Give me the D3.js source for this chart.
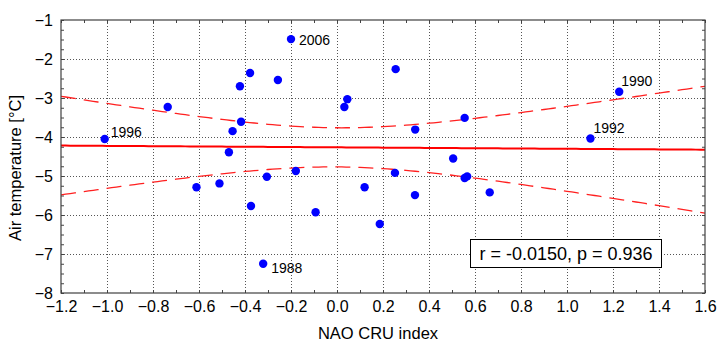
<!DOCTYPE html>
<html>
<head>
<meta charset="utf-8">
<script src="https://cdn.jsdelivr.net/npm/d3@7"></script>
<style>
  body { margin: 0; background: #fff; }
  text { font-family: "Liberation Sans", Arial, sans-serif; fill: #000; }
</style>
</head>
<body>
<div id="chart"></div>
<script>
// NAO CRU index vs air temperature, one point per year
var nao = [-1.010, -0.736, -0.422, -0.378, -0.257, -0.417, -0.454, -0.470, -0.200, 0.255,
  0.045, 0.032, 0.340, -0.611, -0.511, -0.374, -0.305, -0.321, -0.179, -0.093,
  0.120, 0.186, 0.252, 0.339, 1.227, 0.555, 1.102, 0.505, 0.555, 0.566, 0.664];
var temp = [-4.05, -3.23, -2.70, -2.36, -2.54, -3.61, -3.85, -4.39, -1.49, -2.26,
  -3.03, -3.23, -3.81, -5.29, -5.19, -5.77, -5.02, -7.25, -4.87, -5.93,
  -5.29, -6.23, -4.92, -5.49, -2.84, -3.51, -4.04, -4.55, -5.05, -5.01, -5.42];
var years = ["1996", "", "", "", "", "", "", "", "2006", "",
  "", "", "", "", "", "", "", "1988", "", "",
  "", "", "", "", "1990", "", "1992", "", "", "", ""];

var xTicks = [-1.2, -1.0, -0.8, -0.6, -0.4, -0.2, 0.0, 0.2, 0.4, 0.6, 0.8, 1.0, 1.2, 1.4, 1.6];
var yTicks = [-1, -2, -3, -4, -5, -6, -7, -8];
var statText = "r = -0.0150, p = 0.936";

var svgWidth = 718;
var svgHeight = 344;
var margin = { top: 20, right: 13, bottom: 51, left: 61 };
var chartWidth = svgWidth - margin.left - margin.right;
var chartHeight = svgHeight - margin.top - margin.bottom;

var svg = d3.select("#chart")
  .append("svg")
  .attr("width", svgWidth)
  .attr("height", svgHeight);

var chartGroup = svg.append("g")
  .attr("transform", `translate(${margin.left}, ${margin.top})`);

var x = d3.scaleLinear().domain([-1.2, 1.6]).range([0, chartWidth]);
var y = d3.scaleLinear().domain([-8, -1]).range([chartHeight, 0]);

// grid
chartGroup.append("g")
  .selectAll("line.vgrid")
  .data(xTicks.slice(1, -1))
  .enter().append("line")
  .attr("x1", d => Math.round(x(d)) + 0.5).attr("x2", d => Math.round(x(d)) + 0.5)
  .attr("y1", 0).attr("y2", chartHeight)
  .attr("stroke", "#555").attr("stroke-dasharray", "1,2");
chartGroup.append("g")
  .selectAll("line.hgrid")
  .data(yTicks.slice(1, -1))
  .enter().append("line")
  .attr("y1", d => Math.round(y(d)) + 0.5).attr("y2", d => Math.round(y(d)) + 0.5)
  .attr("x1", 0).attr("x2", chartWidth)
  .attr("stroke", "#555").attr("stroke-dasharray", "1,2");

// minor ticks on all four sides, pointing inward
var xMinor = d3.range(-1.2, 1.6001, 0.1);
var yMinor = d3.range(-8, -0.999, 0.25);
function minorAxis(axis, tr) {
  var g = chartGroup.append("g").attr("transform", tr).call(axis);
  g.select(".domain").remove();
  g.selectAll("text").remove();
  g.selectAll("line").attr("stroke", "#444");
}
minorAxis(d3.axisBottom(x).tickValues(xMinor).tickSize(-3), `translate(0,${chartHeight})`);
minorAxis(d3.axisTop(x).tickValues(xMinor).tickSize(-3), "translate(0,0)");
minorAxis(d3.axisLeft(y).tickValues(yMinor).tickSize(-3), "translate(0,0)");
minorAxis(d3.axisRight(y).tickValues(yMinor).tickSize(-3), `translate(${chartWidth},0)`);

// tick labels
var bottomAxis = d3.axisBottom(x).tickValues(xTicks).tickSize(0).tickPadding(8).tickFormat(d3.format(".1f"));
var gx = chartGroup.append("g").attr("transform", `translate(0,${chartHeight})`).call(bottomAxis);
gx.select(".domain").remove();
gx.selectAll("text").attr("font-size", 16).attr("font-family", "Liberation Sans, Arial, sans-serif").attr("fill", "#000");

var leftAxis = d3.axisLeft(y).tickValues(yTicks).tickSize(0).tickPadding(8).tickFormat(d3.format("d"));
var gy = chartGroup.append("g").call(leftAxis);
gy.select(".domain").remove();
gy.selectAll("text").attr("font-size", 16).attr("font-family", "Liberation Sans, Arial, sans-serif").attr("fill", "#000");

// regression line with 95% confidence band
var n = nao.length;
var mx = d3.mean(nao), my = d3.mean(temp);
var sxx = d3.sum(nao, v => (v - mx) * (v - mx));
var sxy = d3.sum(nao, (v, i) => (v - mx) * (temp[i] - my));
var slope = sxy / sxx;
var icpt = my - slope * mx;
var sse = d3.sum(nao, (v, i) => Math.pow(temp[i] - (icpt + slope * v), 2));
var s = Math.sqrt(sse / (n - 2));
var tCrit = 2.045;
var xs = d3.range(-1.2, 1.6001, 0.02);
var band = xs.map(function(v) {
  var fit = icpt + slope * v;
  var hw = tCrit * s * Math.sqrt(1 / n + (v - mx) * (v - mx) / sxx);
  return { x: v, fit: fit, lo: fit - hw, hi: fit + hw };
});

svg.append("defs").append("clipPath").attr("id", "plotclip")
  .append("rect").attr("width", chartWidth).attr("height", chartHeight);
var fitGroup = chartGroup.append("g").attr("clip-path", "url(#plotclip)");

fitGroup.append("path").datum(band)
  .attr("d", d3.line().x(d => x(d.x)).y(d => y(d.hi)))
  .attr("fill", "none").attr("stroke", "#ff2020").attr("stroke-width", 1.3)
  .attr("stroke-dasharray", "15,8");
fitGroup.append("path").datum(band)
  .attr("d", d3.line().x(d => x(d.x)).y(d => y(d.lo)))
  .attr("fill", "none").attr("stroke", "#ff2020").attr("stroke-width", 1.3)
  .attr("stroke-dasharray", "15,8");
fitGroup.append("path").datum(band)
  .attr("d", d3.line().x(d => x(d.x)).y(d => y(d.fit)))
  .attr("fill", "none").attr("stroke", "#ff0000").attr("stroke-width", 2);

// points
chartGroup.selectAll("circle")
  .data(nao)
  .enter()
  .append("circle")
  .attr("cx", d => x(d))
  .attr("cy", (d, i) => y(temp[i]))
  .attr("r", 4.2)
  .attr("fill", "#0000ff");

// year labels
var labelOffset = {
  "1996": [6, -2], "2006": [8, 6], "1988": [8, 9], "1990": [2, -6], "1992": [3, -6]
};
chartGroup.selectAll("text.year")
  .data(years.map((yr, i) => ({ yr: yr, i: i })).filter(d => d.yr !== ""))
  .enter()
  .append("text")
  .attr("class", "year")
  .attr("x", d => x(nao[d.i]) + labelOffset[d.yr][0])
  .attr("y", d => y(temp[d.i]) + labelOffset[d.yr][1])
  .attr("font-size", 14)
  .text(d => d.yr);

// frame
chartGroup.append("rect")
  .attr("x", 0).attr("y", 0)
  .attr("width", chartWidth).attr("height", chartHeight)
  .attr("fill", "none").attr("stroke", "#404040").attr("stroke-width", 1.2);

// stats box (lower right of the plot)
var boxX = 409.5, boxY = 219.5;
var statGroup = chartGroup.append("g");
statGroup.append("rect")
  .attr("x", boxX).attr("y", boxY)
  .attr("width", 191).attr("height", 28)
  .attr("fill", "#fff").attr("stroke", "#000").attr("stroke-width", 1);
statGroup.append("text")
  .attr("x", boxX + 95.5).attr("y", boxY + 20.5)
  .attr("text-anchor", "middle")
  .attr("font-size", 18)
  .text(statText);

// axis titles
svg.append("text")
  .attr("x", margin.left + chartWidth / 2 - 5)
  .attr("y", 339)
  .attr("text-anchor", "middle")
  .attr("font-size", 16.5)
  .text("NAO CRU index");

svg.append("text")
  .attr("transform", "rotate(-90)")
  .attr("x", -168)
  .attr("y", 21)
  .attr("text-anchor", "middle")
  .attr("font-size", 16.5)
  .text("Air temperature [°C]");
</script>
</body>
</html>
